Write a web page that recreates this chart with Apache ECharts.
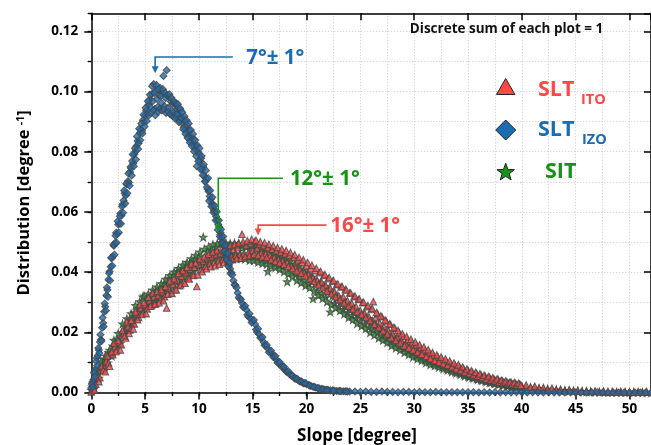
<!DOCTYPE html>
<html>
<head>
<meta charset="utf-8">
<script src="https://cdn.jsdelivr.net/npm/echarts@6/dist/echarts.min.js"></script>
<style>
  html, body { margin: 0; padding: 0; background: #fff; }
  #chart { width: 651px; height: 445px; }
</style>
</head>
<body>
<div id="chart"></div>
<script>
// Slope distributions, [slope in degree, distribution in 1/degree]
const sltIzo = [
  [0,.0015],[0.1,.0035],[0.2,.0042],[0.3,.0071],[0.4,.0078],[0.5,.0115],[0.6,.0122],[0.7,.0141],[0.8,.0168],[0.9,.0176],
  [1,.0215],[1.1,.0231],[1.2,.0268],[1.3,.0285],[1.4,.0322],[1.5,.0341],[1.6,.0375],[1.7,.0402],[1.8,.0418],[1.9,.0446],
  [2,.0452],[2.1,.0488],[2.2,.0497],[2.3,.0531],[2.4,.0526],[2.5,.0558],[2.6,.0562],[2.7,.0595],[2.8,.0588],[2.9,.0625],
  [3,.0638],[3.1,.0662],[3.2,.0655],[3.3,.0691],[3.4,.0702],[3.5,.0698],[3.6,.0733],[3.7,.0745],[3.8,.0769],[3.9,.0762],
  [4,.0792],[4.1,.0801],[4.2,.0819],[4.3,.0836],[4.4,.0828],[4.5,.0862],[4.6,.0874],[4.7,.0869],[4.8,.0905],[4.9,.0897],
  [5,.0921],[5.1,.0938],[5.2,.0926],[5.3,.0955],[5.4,.0972],[5.5,.0948],[5.6,.0991],[5.7,.0968],[5.8,.1025],[5.9,.0942],
  [6,.1003],[6.1,.0975],[6.2,.0932],[6.3,.0988],[6.4,.1012],[6.5,.0962],[6.6,.0995],[6.7,.1052],[6.8,.0951],[6.9,.0978],
  [7,.1071],[7.1,.0945],[7.2,.0982],[7.3,.0926],[7.4,.0967],[7.5,.0958],[7.6,.0918],[7.7,.0961],[7.8,.0937],[7.9,.0912],
  [8,.0949],[8.1,.0921],[8.2,.0903],[8.3,.0938],[8.4,.0897],[8.5,.0912],[8.6,.0881],[8.7,.0902],[8.8,.0868],[8.9,.0889],
  [9,.0852],[9.1,.0871],[9.2,.0838],[9.3,.0849],[9.4,.0825],[9.5,.0842],[9.6,.0811],[9.7,.0822],[9.8,.0752],[9.9,.0801],
  [10,.0792],[10.1,.0768],[10.2,.0778],[10.3,.0741],[10.4,.0749],[10.5,.0719],[10.6,.0702],[10.7,.0711],[10.8,.0676],[10.9,.0668],
  [11,.0652],[11.1,.0641],[11.2,.0628],[11.3,.0619],[11.4,.0605],[11.5,.0598],[11.6,.0585],[11.7,.0572],[11.8,.0558],[11.9,.0549],
  [12,.0531],[12.1,.0515],[12.2,.0502],[12.3,.0488],[12.4,.0472],[12.5,.0461],[12.6,.0449],[12.7,.0436],[12.8,.0424],[12.9,.0411],
  [13,.0399],[13.2,.0372],[13.4,.0356],[13.6,.0331],[13.8,.0312],[14,.0297],[14.2,.0283],[14.4,.0275],[14.6,.0252],[14.8,.0246],
  [15,.0236],[15.2,.0228],[15.4,.0201],[15.6,.0193],[15.8,.0181],[16,.0168],[16.2,.0155],[16.4,.0146],[16.6,.0136],[16.8,.0129],
  [17,.0118],[17.2,.0109],[17.4,.0098],[17.6,.0092],[17.8,.0084],[18,.0076],[18.2,.0068],[18.4,.0063],[18.6,.0056],[18.8,.0051],
  [19,.0046],[19.2,.0042],[19.4,.0037],[19.6,.0034],[19.8,.0031],[20,.0028],[20.2,.0025],[20.4,.0022],[20.6,.0019],[20.8,.0017],
  [21,.0015],[21.2,.0013],[21.4,.0012],[21.6,.0010],[21.8,.0009],[22,.0008],[22.2,.0007],[22.4,.0007],[22.6,.0006],[22.8,.0005],
  [23,.0005],[23.2,.0004],[23.4,.0004],[23.6,.0004],[23.8,.0003],[24,.0003],[24.5,.0003],[25,.0002],[25.5,.0003],[26,.0002],
  [26.5,.0002],[27,.0003],[27.5,.0002],[28,.0002],[28.5,.0001],[29,.0002],[29.5,.0002],[30,.0001],[30.5,.0002],[31,.0001],
  [31.5,.0001],[32,.0002],[32.5,.0001],[33,.0001],[33.5,.0001],[34,.0001],[34.5,.0001],[35,.0001],[35.5,.0001],[36,.0000],
  [36.5,.0001],[37,.0000],[37.5,.0001],[38,.0000],[38.5,.0001],[39,.0000],[39.5,.0001],[40,.0000],[40.5,.0000],[41,.0001],
  [41.5,.0000],[42,.0000],[42.5,.0001],[43,.0000],[43.5,.0000],[44,.0000],[44.5,.0001],[45,.0000],[45.5,.0000],[46,.0000],
  [46.5,.0000],[47,.0001],[47.5,.0000],[48,.0000],[48.5,.0000],[49,.0000],[49.5,.0000],[50,.0000],[50.5,.0000],[51,.0000],
  [51.5,.0000],[52,.0000],
  [0.05,.0028],[0.15,.0019],[0.25,.0066],[0.35,.0052],[0.45,.0104],[0.55,.0089],[0.65,.0148],[0.75,.0131],[0.85,.0192],[0.95,.0171],
  [1.05,.0248],[1.15,.0219],[1.25,.0296],[1.35,.0272],[1.45,.0349],[1.55,.0318],[1.65,.0396],[1.75,.0372],[1.85,.0448],[1.95,.0421],
  [2.05,.0491],[2.15,.0458],[2.25,.0521],[2.35,.0498],[2.45,.0569],[2.55,.0532],[2.65,.0586],[2.75,.0561],[2.85,.0618],[2.95,.0597],
  [3.05,.0671],[3.15,.0628],[3.25,.0694],[3.35,.0662],[3.45,.0728],[3.55,.0687],[3.65,.0749],[3.75,.0721],[3.85,.0791],[3.95,.0752],
  [4.05,.0812],[4.15,.0774],[4.25,.0851],[4.35,.0809],[4.45,.0876],[4.55,.0838],[4.65,.0894],[4.75,.0861],[4.85,.0923],[4.95,.0884],
  [5.05,.0946],[5.15,.0902],[5.25,.0968],[5.35,.0921],[5.45,.0989],[5.55,.0929],[5.65,.1018],[5.75,.0938],[5.85,.0995],[5.95,.0921],
  [6.05,.1022],[6.15,.0948],[6.25,.1009],[6.35,.0942],[6.45,.0985],[6.55,.0937],[6.65,.1008],[6.75,.0941],[6.85,.0996],[6.95,.0929],
  [7.05,.0988],[7.15,.0933],[7.25,.0991],[7.35,.0925],[7.45,.0979],[7.55,.0934],[7.65,.0968],[7.75,.0911],[7.85,.0962],[7.95,.0925],
  [8.05,.0958],[8.15,.0898],[8.25,.0944],[8.35,.0912],[8.45,.0931],[8.55,.0875],[8.65,.0918],[8.75,.0859],[8.85,.0905],[8.95,.0846],
  [9.05,.0894],[9.15,.0831],[9.25,.0872],[9.35,.0819],[9.45,.0859],[9.55,.0801],[9.65,.0838],[9.75,.0785],[9.85,.0821],[9.95,.0768],
  [10.05,.0812],[10.15,.0742],[10.25,.0786],[10.35,.0722],[10.45,.0758],[10.55,.0701],[10.65,.0738],[10.75,.0682],[10.85,.0712],[10.95,.0636],
  [11.05,.0671],[11.15,.0618],[11.25,.0649],[11.35,.0598],[11.45,.0621],[11.55,.0572],[11.65,.0601],[11.75,.0541],[11.85,.0572],[11.95,.0518],
  [12.05,.0542],[12.15,.0496],[12.25,.0518],[12.35,.0469],[12.45,.0489],[12.55,.0441],[12.65,.0462],[12.75,.0419],[12.85,.0432],[12.95,.0395],
  [13.1,.0391],[13.3,.0358],[13.5,.0348],[13.7,.0316],[13.9,.0309],[14.1,.0284],[14.3,.0288],[14.5,.0258],[14.7,.0262],[14.9,.0233],
  [15.1,.0241],[15.3,.0209],[15.5,.0212],[15.7,.0182],[15.9,.0184],[16.1,.0157],[16.3,.0158],[16.5,.0134],[16.7,.0139],[16.9,.0118],
  [17.1,.0121],[17.3,.0099],[17.5,.0101],[17.7,.0085],[17.9,.0086],[18.1,.0070],[18.3,.0071],[18.5,.0058],[18.7,.0056],[18.9,.0047],
  [19.1,.0046],[19.3,.0038],[19.5,.0037],[19.7,.0031],[19.9,.0031],[20.3,.0023],[20.7,.0019],[21.1,.0014],[21.5,.0011],[21.9,.0009],
  [22.5,.0006],[23.1,.0005],[23.7,.0004]
];

const sltIto = [
  [0,.0002],[0.2,.0021],[0.4,.0028],[0.6,.0052],[0.8,.0049],[1,.0078],[1.2,.0082],[1.4,.0105],[1.6,.0098],[1.8,.0131],
  [2,.0126],[2.2,.0152],[2.4,.0141],[2.6,.0168],[2.8,.0159],[3,.0195],[3.2,.0181],[3.4,.0219],[3.6,.0208],[3.8,.0241],
  [4,.0228],[4.2,.0262],[4.4,.0249],[4.6,.0281],[4.8,.0265],[5,.0292],[5.2,.0278],[5.4,.0305],[5.6,.0289],[5.8,.0318],
  [6,.0296],[6.2,.0322],[6.4,.0309],[6.6,.0335],[6.8,.0318],[7,.0281],[7.2,.0346],[7.4,.0331],[7.6,.0359],[7.8,.0342],
  [8,.0373],[8.2,.0355],[8.4,.0386],[8.6,.0368],[8.8,.0398],[9,.0381],[9.2,.0409],[9.4,.0392],[9.6,.0416],[9.8,.0352],
  [10,.0425],[10.2,.0408],[10.4,.0436],[10.6,.0419],[10.8,.0445],[11,.0428],[11.2,.0451],[11.4,.0432],[11.6,.0458],[11.8,.0438],
  [12,.0462],[12.2,.0441],[12.4,.0468],[12.6,.0449],[12.8,.0472],[13,.0451],[13.2,.0476],[13.4,.0455],[13.6,.0481],[13.8,.0458],
  [14,.0526],[14.2,.0462],[14.4,.0489],[14.6,.0466],[14.8,.0495],[15,.0472],[15.2,.0502],[15.4,.0478],[15.6,.0493],[15.8,.0465],
  [16,.0488],[16.2,.0461],[16.4,.0482],[16.6,.0455],[16.8,.0476],[17,.0449],[17.2,.0471],[17.4,.0442],[17.6,.0466],[17.8,.0438],
  [18,.0461],[18.2,.0432],[18.4,.0455],[18.6,.0421],[18.8,.0448],[19,.0416],[19.2,.0441],[19.4,.0408],[19.6,.0432],[19.8,.0398],
  [20,.0421],[20.2,.0392],[20.4,.0412],[20.6,.0381],[20.8,.0405],[21,.0372],[21.2,.0398],[21.4,.0366],[21.6,.0389],[21.8,.0355],
  [22,.0378],[22.2,.0346],[22.4,.0369],[22.6,.0335],[22.8,.0358],[23,.0321],[23.2,.0351],[23.4,.0318],[23.6,.0342],[23.8,.0305],
  [24,.0331],[24.2,.0296],[24.4,.0318],[24.6,.0285],[24.8,.0309],[25,.0272],[25.2,.0298],[25.4,.0263],[25.6,.0285],[25.8,.0251],
  [26,.0276],[26.2,.0302],[26.4,.0248],[26.6,.0262],[26.8,.0231],[27,.0252],[27.2,.0219],[27.4,.0238],[27.6,.0206],[27.8,.0226],
  [28,.0195],[28.2,.0214],[28.4,.0185],[28.6,.0199],[28.8,.0172],[29,.0186],[29.2,.0162],[29.4,.0175],[29.6,.0152],[29.8,.0166],
  [30,.0145],[30.2,.0158],[30.4,.0136],[30.6,.0149],[30.8,.0128],[31,.0141],[31.2,.0121],[31.4,.0132],[31.6,.0112],[31.8,.0124],
  [32,.0105],[32.2,.0118],[32.4,.0099],[32.6,.0109],[32.8,.0093],[33,.0104],[33.2,.0088],[33.4,.0096],[33.6,.0082],[33.8,.0091],
  [34,.0076],[34.2,.0086],[34.4,.0071],[34.6,.0079],[34.8,.0066],[35,.0074],[35.2,.0061],[35.4,.0068],[35.6,.0056],[35.8,.0063],
  [36,.0052],[36.2,.0059],[36.4,.0048],[36.6,.0054],[36.8,.0044],[37,.0051],[37.2,.0041],[37.4,.0046],[37.6,.0037],[37.8,.0043],
  [38,.0035],[38.2,.0039],[38.4,.0032],[38.6,.0036],[38.8,.0029],[39,.0034],[39.2,.0027],[39.4,.0031],[39.6,.0024],[39.8,.0028],
  [40,.0022],[40.4,.0025],[40.8,.0018],[41.2,.0021],[41.6,.0015],[42,.0017],[42.4,.0012],[42.8,.0014],[43.2,.0009],[43.6,.0011],
  [44,.0007],[44.4,.0009],[44.8,.0005],[45.2,.0007],[45.6,.0004],[46,.0005],[46.4,.0003],[46.8,.0004],[47.2,.0002],[47.6,.0003],
  [48,.0002],[48.4,.0002],[48.8,.0001],[49.2,.0002],[49.6,.0001],[50,.0001],[50.4,.0001],[50.8,.0001],[51.2,.0001],[51.6,.0001],
  [52,.0001],
  [0.1,.0012],[0.3,.0008],[0.5,.0047],[0.7,.0036],[0.9,.0089],[1.1,.0074],[1.3,.0069],[1.5,.0121],[1.7,.0087],[1.9,.0135],
  [2.1,.0164],[2.3,.0136],[2.5,.0173],[2.7,.0141],[2.9,.0206],[3.1,.0188],[3.3,.0235],[3.5,.0196],[3.7,.0240],[3.9,.0211],
  [4.1,.0268],[4.3,.0242],[4.5,.0292],[4.7,.0259],[4.9,.0299],[5.1,.0262],[5.3,.0316],[5.5,.0287],[5.7,.0331],[5.9,.0293],
  [6.1,.0336],[6.3,.0298],[6.5,.0342],[6.7,.0305],[6.9,.0352],[7.1,.0327],[7.3,.0371],[7.5,.0329],[7.7,.0378],[7.9,.0341],
  [8.1,.0396],[8.3,.0358],[8.5,.0405],[8.7,.0363],[8.9,.0416],[9.1,.0377],[9.3,.0428],[9.5,.0389],[9.7,.0431],[9.9,.0391],
  [10.1,.0444],[10.3,.0401],[10.5,.0451],[10.7,.0411],[10.9,.0459],[11.1,.0418],[11.3,.0467],[11.5,.0421],[11.7,.0472],[11.9,.0426],
  [12.1,.0478],[12.3,.0431],[12.5,.0483],[12.7,.0436],[12.9,.0489],[13.1,.0441],[13.3,.0492],[13.5,.0445],[13.7,.0497],[13.9,.0446],
  [14.1,.0501],[14.3,.0452],[14.5,.0504],[14.7,.0455],[14.9,.0509],[15.1,.0458],[15.3,.0506],[15.5,.0456],[15.7,.0501],[15.9,.0451],
  [16.1,.0498],[16.3,.0449],[16.5,.0493],[16.7,.0441],[16.9,.0488],[17.1,.0436],[17.3,.0482],[17.5,.0431],[17.7,.0477],[17.9,.0426],
  [18.1,.0472],[18.3,.0419],[18.5,.0465],[18.7,.0412],[18.9,.0458],[19.1,.0404],[19.3,.0449],[19.5,.0396],[19.7,.0441],[19.9,.0388],
  [20.1,.0432],[20.3,.0378],[20.5,.0423],[20.7,.0369],[20.9,.0413],[21.1,.0358],[21.3,.0402],[21.5,.0348],[21.7,.0392],[21.9,.0337],
  [22.1,.0382],[22.3,.0328],[22.5,.0372],[22.7,.0318],[22.9,.0361],[23.1,.0308],[23.3,.0352],[23.5,.0298],[23.7,.0341],[23.9,.0287],
  [24.1,.0331],[24.3,.0277],[24.5,.0321],[24.7,.0268],[24.9,.0311],[25.1,.0259],[25.3,.0300],[25.5,.0249],[25.7,.0289],[25.9,.0239],
  [26.1,.0279],[26.3,.0227],[26.5,.0266],[26.7,.0216],[26.9,.0254],[27.1,.0205],[27.3,.0241],[27.5,.0194],[27.7,.0228],[27.9,.0182],
  [28.1,.0216],[28.3,.0173],[28.5,.0206],[28.7,.0164],[28.9,.0195],[29.1,.0155],[29.3,.0186],[29.5,.0148],[29.7,.0177],[29.9,.0141],
  [30.1,.0168],[30.3,.0134],[30.5,.0159],[30.7,.0127],[30.9,.0151],[31.1,.0120],[31.3,.0142],[31.5,.0113],[31.7,.0133],[31.9,.0106],
  [32.1,.0125],[32.3,.0101],[32.5,.0118],[32.7,.0096],[32.9,.0111],[33.1,.0090],[33.3,.0105],[33.5,.0085],[33.7,.0098],[33.9,.0079],
  [34.1,.0092],[34.3,.0074],[34.5,.0085],[34.7,.0068],[34.9,.0078],[35.1,.0063],[35.3,.0072],[35.5,.0058],[35.7,.0067],[35.9,.0054],
  [36.1,.0062],[36.3,.0050],[36.5,.0057],[36.7,.0045],[36.9,.0053],[37.1,.0042],[37.3,.0049],[37.5,.0039],[37.7,.0045],[37.9,.0035],
  [38.1,.0041],[38.3,.0033],[38.5,.0038],[38.7,.0031],[38.9,.0035],[39.1,.0028],[39.3,.0033],[39.5,.0026],[39.7,.0031],[39.9,.0024]
];

const sit = [
  [0,.0008],[0.2,.0025],[0.4,.0046],[0.6,.0059],[0.8,.0082],[1,.0088],[1.2,.0112],[1.4,.0109],[1.6,.0133],[1.8,.0129],
  [2,.0155],[2.2,.0152],[2.4,.0176],[2.6,.0171],[2.8,.0198],[3,.0194],[3.2,.0221],[3.4,.0212],[3.6,.0241],[3.8,.0232],
  [4,.0265],[4.2,.0253],[4.4,.0281],[4.6,.0272],[4.8,.0318],[5,.0289],[5.2,.0309],[5.4,.0298],[5.6,.0321],[5.8,.0312],
  [6,.0336],[6.2,.0322],[6.4,.0348],[6.6,.0335],[6.8,.0362],[7,.0349],[7.2,.0378],[7.4,.0361],[7.6,.0391],[7.8,.0372],
  [8,.0402],[8.2,.0383],[8.4,.0411],[8.6,.0395],[8.8,.0423],[9,.0403],[9.2,.0431],[9.4,.0412],[9.6,.0442],[9.8,.0425],
  [10,.0451],[10.2,.0434],[10.4,.0516],[10.6,.0441],[10.8,.0468],[11,.0449],[11.2,.0474],[11.4,.0456],[11.6,.0482],[11.8,.0461],
  [12,.0521],[12.2,.0465],[12.4,.0489],[12.6,.0462],[12.8,.0485],[13,.0459],[13.2,.0482],[13.4,.0457],[13.6,.0486],[13.8,.0461],
  [14,.0479],[14.2,.0455],[14.4,.0483],[14.6,.0458],[14.8,.0476],[15,.0452],[15.2,.0479],[15.4,.0449],[15.6,.0471],[15.8,.0446],
  [16,.0468],[16.2,.0441],[16.4,.0402],[16.6,.0438],[16.8,.0455],[17,.0432],[17.2,.0451],[17.4,.0425],[17.6,.0446],[17.8,.0419],
  [18,.0438],[18.2,.0368],[18.4,.0425],[18.6,.0402],[18.8,.0418],[19,.0392],[19.2,.0411],[19.4,.0385],[19.6,.0398],[19.8,.0372],
  [20,.0389],[20.2,.0362],[20.4,.0378],[20.6,.0312],[20.8,.0361],[21,.0338],[21.2,.0355],[21.4,.0329],[21.6,.0346],[21.8,.0318],
  [22,.0337],[22.2,.0268],[22.4,.0321],[22.6,.0296],[22.8,.0312],[23,.0286],[23.2,.0301],[23.4,.0276],[23.6,.0289],[23.8,.0265],
  [24,.0279],[24.2,.0255],[24.4,.0268],[24.6,.0246],[24.8,.0259],[25,.0238],[25.2,.0251],[25.4,.0228],[25.6,.0241],[25.8,.0218],
  [26,.0231],[26.2,.0209],[26.4,.0221],[26.6,.0199],[26.8,.0211],[27,.0188],[27.2,.0199],[27.4,.0179],[27.6,.0191],[27.8,.0169],
  [28,.0181],[28.2,.0162],[28.4,.0172],[28.6,.0153],[28.8,.0164],[29,.0145],[29.2,.0155],[29.4,.0137],[29.6,.0146],[29.8,.0129],
  [30,.0139],[30.2,.0122],[30.4,.0131],[30.6,.0115],[30.8,.0124],[31,.0108],[31.2,.0117],[31.4,.0102],[31.6,.0111],[31.8,.0096],
  [32,.0104],[32.2,.0091],[32.4,.0098],[32.6,.0085],[32.8,.0092],[33,.0079],[33.2,.0087],[33.4,.0074],[33.6,.0081],[33.8,.0069],
  [34,.0075],[34.2,.0064],[34.4,.0070],[34.6,.0059],[34.8,.0065],[35,.0054],[35.2,.0060],[35.4,.0050],[35.6,.0055],[35.8,.0046],
  [36,.0051],[36.2,.0042],[36.4,.0047],[36.6,.0038],[36.8,.0043],[37,.0034],[37.2,.0039],[37.4,.0031],[37.6,.0036],[37.8,.0028],
  [38,.0032],[38.2,.0026],[38.4,.0029],[38.6,.0023],[38.8,.0027],[39,.0021],[39.2,.0024],[39.4,.0019],[39.6,.0022],[39.8,.0017],
  [40,.0019],[40.4,.0014],[40.8,.0016],[41.2,.0012],[41.6,.0013],[42,.0010],[42.4,.0011],[42.8,.0008],[43.2,.0009],[43.6,.0006],
  [44,.0007],[44.4,.0005],[44.8,.0006],[45.2,.0004],[45.6,.0004],[46,.0003],[46.4,.0003],[46.8,.0002],[47.2,.0002],[47.6,.0002],
  [48,.0001],[48.4,.0001],[48.8,.0001],[49.2,.0001],[49.6,.0001],[50,.0001],[50.4,.0001],[50.8,.0001],[51.2,.0000],[51.6,.0001],
  [52,.0000],
  [0.1,.0019],[0.3,.0014],[0.5,.0061],[0.7,.0048],[0.9,.0102],[1.1,.0081],[1.3,.0122],[1.5,.0098],[1.7,.0141],[1.9,.0121],
  [2.1,.0174],[2.3,.0149],[2.5,.0196],[2.7,.0163],[2.9,.0228],[3.1,.0199],[3.3,.0245],[3.5,.0218],[3.7,.0262],[3.9,.0236],
  [4.1,.0289],[4.3,.0251],[4.5,.0302],[4.7,.0266],[4.9,.0321],[5.1,.0284],[5.3,.0328],[5.5,.0296],[5.7,.0341],[5.9,.0308],
  [6.1,.0351],[6.3,.0317],[6.5,.0362],[6.7,.0328],[6.9,.0377],[7.1,.0339],[7.3,.0389],[7.5,.0352],[7.7,.0401],[7.9,.0366],
  [8.1,.0412],[8.3,.0374],[8.5,.0424],[8.7,.0385],[8.9,.0433],[9.1,.0394],[9.3,.0445],[9.5,.0402],[9.7,.0456],[9.9,.0418],
  [10.1,.0467],[10.3,.0423],[10.5,.0476],[10.7,.0431],[10.9,.0484],[11.1,.0437],[11.3,.0491],[11.5,.0443],[11.7,.0495],[11.9,.0447],
  [12.1,.0498],[12.3,.0448],[12.5,.0497],[12.7,.0446],[12.9,.0495],[13.1,.0447],[13.3,.0496],[13.5,.0445],[13.7,.0494],[13.9,.0446],
  [14.1,.0493],[14.3,.0444],[14.5,.0491],[14.7,.0439],[14.9,.0489],[15.1,.0438],[15.3,.0486],[15.5,.0433],[15.7,.0479],[15.9,.0429],
  [16.1,.0476],[16.3,.0426],[16.5,.0471],[16.7,.0419],[16.9,.0465],[17.1,.0415],[17.3,.0461],[17.5,.0409],[17.7,.0454],[17.9,.0401],
  [18.1,.0446],[18.3,.0394],[18.5,.0437],[18.7,.0386],[18.9,.0425],[19.1,.0372],[19.3,.0419],[19.5,.0364],[19.7,.0406],[19.9,.0355],
  [20.1,.0395],[20.3,.0348],[20.5,.0384],[20.7,.0338],[20.9,.0371],[21.1,.0322],[21.3,.0364],[21.5,.0313],[21.7,.0352],[21.9,.0301],
  [22.1,.0342],[22.3,.0292],[22.5,.0331],[22.7,.0281],[22.9,.0318],[23.1,.0272],[23.3,.0309],[23.5,.0261],[23.7,.0298],[23.9,.0249],
  [24.1,.0288],[24.3,.0242],[24.5,.0276],[24.7,.0229],[24.9,.0266],[25.1,.0221],[25.3,.0258],[25.5,.0212],[25.7,.0246],[25.9,.0199],
  [26.1,.0237],[26.3,.0191],[26.5,.0224],[26.7,.0181],[26.9,.0211],[27.1,.0174],[27.3,.0202],[27.5,.0166],[27.7,.0192],[27.9,.0155],
  [28.1,.0184],[28.3,.0148],[28.5,.0176],[28.7,.0141],[28.9,.0164],[29.1,.0133],[29.3,.0157],[29.5,.0126],[29.7,.0148],[29.9,.0118],
  [30.1,.0141],[30.3,.0112],[30.5,.0131],[30.7,.0106],[30.9,.0124],[31.1,.0099],[31.3,.0117],[31.5,.0093],[31.7,.0109],[31.9,.0089],
  [32.1,.0103],[32.3,.0084],[32.5,.0097],[32.7,.0079],[32.9,.0091],[33.1,.0074],[33.3,.0086],[33.5,.0069],[33.7,.0079],[33.9,.0064],
  [34.1,.0074],[34.3,.0060],[34.5,.0068],[34.7,.0055],[34.9,.0062],[35.1,.0051],[35.3,.0058],[35.5,.0047],[35.7,.0053],[35.9,.0043],
  [36.1,.0049],[36.3,.0040],[36.5,.0045],[36.7,.0036],[36.9,.0041],[37.1,.0033],[37.3,.0038],[37.5,.0030],[37.7,.0034],[37.9,.0027],
  [38.1,.0031],[38.3,.0025],[38.5,.0028],[38.7,.0022],[38.9,.0026],[39.1,.0020],[39.3,.0023],[39.5,.0018],[39.7,.0021],[39.9,.0016]
];

// Axis ranges and tick steps
const xRange = [0, 52];
const yRange = [0, 0.126];
const xMajorStep = 5, xMinorStep = 2.5;
const yMajorStep = 0.02, yMinorStep = 0.01;

// Peak annotations: label, arrow tip (x, y), leader height, leader end x, label start x
const peakLabels = ['7°± 1°', '12°± 1°', '16°± 1°'];
const peakTipX = [5.93, 11.8, 15.5];
const peakTipY = [0.1061, 0.0532, 0.0522];
const leaderY = [0.1115, 0.0712, 0.0556];
const leaderEndX = [13.15, 17.8, 21.85];
const labelX = [14.4, 18.45, 22.2];

const RED = '#ff4848';
const BLUE = '#1b6cb0';
const GREEN = '#169316';
const EDGE = '#474747';
const FONT = '"Open Sans", Lato, "DejaVu Sans", sans-serif';
const STAR = 'path://M0,-10L2.35,-3.24L9.51,-3.09L3.8,1.24L5.88,8.09L0,4L-5.88,8.09L-3.8,1.24L-9.51,-3.09L-2.35,-3.24Z';

const chart = echarts.init(document.getElementById('chart'), null, { renderer: 'canvas' });

const axisFrame = { lineStyle: { color: '#000', width: 1.5 } };
const gridDots = { show: true, lineStyle: { color: '#cbcbcb', width: 1, type: [1, 2] } };

function xAxisDef(position, step, opts) {
  return Object.assign({
    type: 'value', position, min: xRange[0], max: xRange[1], interval: step,
    axisLine: { show: false }, axisLabel: { show: false }, splitLine: { show: false },
    axisTick: { show: false }, axisPointer: { show: false }
  }, opts);
}
function yAxisDef(position, step, opts) {
  return Object.assign({
    type: 'value', position, min: yRange[0], max: yRange[1], interval: step,
    axisLine: { show: false }, axisLabel: { show: false }, splitLine: { show: false },
    axisTick: { show: false }, axisPointer: { show: false }
  }, opts);
}

const option = {
  animation: false,
  backgroundColor: '#fff',
  grid: { left: 91.3, right: 0, top: 13.3, bottom: 52.5, containLabel: false },
  xAxis: [
    xAxisDef('bottom', xMajorStep, {
      axisLine: Object.assign({ show: true, onZero: false }, axisFrame),
      axisTick: { show: true, inside: false, length: 7, lineStyle: { color: '#000', width: 1.5 } },
      axisLabel: { show: true, margin: 10, color: '#000', fontSize: 13.5, fontWeight: 'bold', fontFamily: FONT, showMaxLabel: false }
    }),
    xAxisDef('bottom', xMinorStep, {
      splitLine: gridDots,
      axisTick: { show: true, inside: false, length: 3.5, lineStyle: { color: '#000', width: 1.2 } }
    }),
    xAxisDef('top', xMajorStep, {
      axisLine: Object.assign({ show: true, onZero: false }, axisFrame),
      axisTick: { show: true, inside: true, length: 7, lineStyle: { color: '#000', width: 1.5 } }
    }),
    xAxisDef('top', xMinorStep, {
      axisTick: { show: true, inside: true, length: 3.5, lineStyle: { color: '#000', width: 1.2 } }
    })
  ],
  yAxis: [
    yAxisDef('left', yMajorStep, {
      axisLine: Object.assign({ show: true, onZero: false }, axisFrame),
      axisTick: { show: true, inside: false, length: 7, lineStyle: { color: '#000', width: 1.5 } },
      axisLabel: {
        show: true, margin: 13, color: '#000', fontSize: 13.5, fontWeight: 'bold', fontFamily: FONT,
        showMaxLabel: false, formatter: v => v.toFixed(2)
      },
      name: '{t|Distribution [degree }{s|-1}{t|]}',
      nameLocation: 'middle', nameRotate: 90, nameGap: 59,
      nameTextStyle: {
        rich: {
          t: { fontSize: 16.5, fontWeight: 'bold', fontFamily: FONT, color: '#000' },
          s: { fontSize: 10.5, fontWeight: 'bold', fontFamily: FONT, color: '#000', verticalAlign: 'top', padding: [0, 0, 6, 0] }
        }
      }
    }),
    yAxisDef('left', yMinorStep, {
      splitLine: gridDots,
      axisTick: { show: true, inside: false, length: 3.5, lineStyle: { color: '#000', width: 1.2 } }
    }),
    yAxisDef('right', yMajorStep, {
      axisLine: Object.assign({ show: true, onZero: false }, axisFrame),
      axisTick: { show: true, inside: true, length: 7, lineStyle: { color: '#000', width: 1.5 } }
    }),
    yAxisDef('right', yMinorStep, {
      axisTick: { show: true, inside: true, length: 3.5, lineStyle: { color: '#000', width: 1.2 } }
    })
  ],
  series: [
    {
      name: 'SIT', type: 'scatter', data: sit, symbol: STAR, symbolSize: 7.5, silent: true,
      itemStyle: { color: GREEN, borderColor: EDGE, borderWidth: 1.1 }
    },
    {
      name: 'SLT ITO', type: 'scatter', data: sltIto, symbol: 'triangle', symbolSize: 6.5, silent: true,
      itemStyle: { color: RED, borderColor: EDGE, borderWidth: 1.1 }
    },
    {
      name: 'SLT IZO', type: 'scatter', data: sltIzo, symbol: 'diamond', symbolSize: 7, silent: true,
      itemStyle: { color: BLUE, borderColor: EDGE, borderWidth: 1.1 }
    }
  ]
};

chart.setOption(option);

// Annotations placed through the chart's own coordinate system
const toPx = (x, y) => chart.convertToPixel({ xAxisIndex: 0, yAxisIndex: 0 }, [x, y]);
const peakColors = [BLUE, GREEN, RED];
const graphics = [];

peakLabels.forEach((label, i) => {
  const tip = toPx(peakTipX[i], peakTipY[i]);
  const elbow = toPx(peakTipX[i], leaderY[i]);
  const end = toPx(leaderEndX[i], leaderY[i]);
  const textAt = toPx(labelX[i], leaderY[i]);
  const c = peakColors[i];
  graphics.push({
    type: 'polyline', silent: true, z: 100,
    shape: { points: [[end[0], end[1]], [elbow[0], elbow[1]], [tip[0], tip[1] - 5]] },
    style: { stroke: c, lineWidth: 1.6, fill: null }
  });
  graphics.push({
    type: 'polygon', silent: true, z: 100,
    shape: { points: [[tip[0] - 3.5, tip[1] - 7], [tip[0] + 3.5, tip[1] - 7], [tip[0], tip[1]]] },
    style: { fill: c }
  });
  graphics.push({
    type: 'text', silent: true, z: 100,
    x: textAt[0], y: textAt[1] + 1,
    style: { text: label, fill: c, fontSize: 20.5, fontWeight: 'bold', fontFamily: FONT, align: 'left', verticalAlign: 'middle' }
  });
});

// Five-pointed star outline for the legend icon
function starPoints(cx, cy, rOuter, rInner) {
  const pts = [];
  for (let k = 0; k < 10; k++) {
    const a = (-90 + k * 36) * Math.PI / 180;
    const r = k % 2 === 0 ? rOuter : rInner;
    pts.push([cx + r * Math.cos(a), cy + r * Math.sin(a)]);
  }
  return pts;
}

// Legend block
graphics.push(
  { type: 'polygon', silent: true, z: 100,
    shape: { points: [[505.7, 78.5], [496.5, 94.5], [514.9, 94.5]] },
    style: { fill: RED, stroke: '#222', lineWidth: 1 } },
  { type: 'polygon', silent: true, z: 100,
    shape: { points: [[505.7, 120], [515.7, 130], [505.7, 140], [495.7, 130]] },
    style: { fill: BLUE, stroke: '#222', lineWidth: 1 } },
  { type: 'polygon', silent: true, z: 100,
    shape: { points: starPoints(505.7, 172.5, 9.2, 3.8) },
    style: { fill: GREEN, stroke: '#222', lineWidth: 1 } },
  { type: 'text', silent: true, z: 100, x: 538, y: 90,
    style: { text: 'SLT', fill: RED, fontSize: 21.5, fontWeight: 'bold', fontFamily: FONT, align: 'left', verticalAlign: 'middle' } },
  { type: 'text', silent: true, z: 100, x: 581, y: 100,
    style: { text: 'ITO', fill: RED, fontSize: 14.5, fontWeight: 'bold', fontFamily: FONT, align: 'left', verticalAlign: 'middle' } },
  { type: 'text', silent: true, z: 100, x: 538, y: 130,
    style: { text: 'SLT', fill: BLUE, fontSize: 21.5, fontWeight: 'bold', fontFamily: FONT, align: 'left', verticalAlign: 'middle' } },
  { type: 'text', silent: true, z: 100, x: 582, y: 140,
    style: { text: 'IZO', fill: BLUE, fontSize: 14.5, fontWeight: 'bold', fontFamily: FONT, align: 'left', verticalAlign: 'middle' } },
  { type: 'text', silent: true, z: 100, x: 545, y: 172,
    style: { text: 'SIT', fill: GREEN, fontSize: 21.5, fontWeight: 'bold', fontFamily: FONT, align: 'left', verticalAlign: 'middle' } },
  { type: 'text', silent: true, z: 100, x: 506.5, y: 29,
    style: { text: 'Discrete sum of each plot = 1', fill: '#111', fontSize: 13.5, fontWeight: 'bold', fontFamily: FONT, align: 'center', verticalAlign: 'middle' } },
  { type: 'text', silent: true, z: 100, x: 357, y: 436,
    style: { text: 'Slope [degree]', fill: '#000', fontSize: 17, fontWeight: 'bold', fontFamily: FONT, align: 'center', verticalAlign: 'middle' } }
);

chart.setOption({ graphic: graphics });
</script>
</body>
</html>
